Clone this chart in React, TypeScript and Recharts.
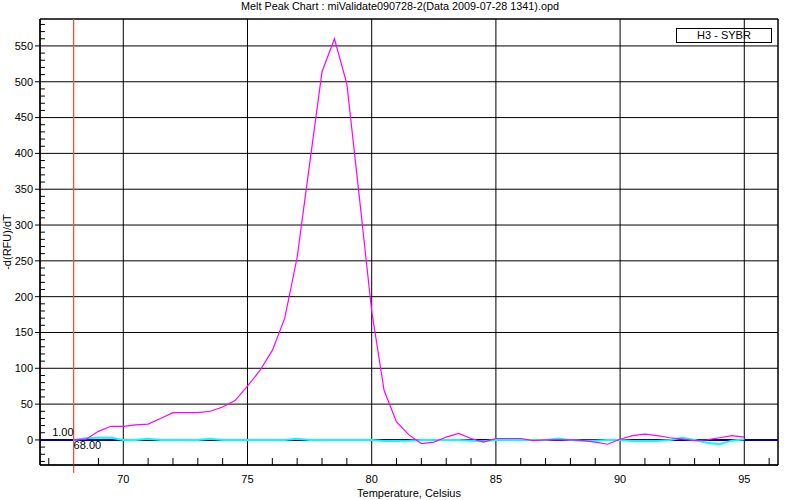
import {
  CartesianGrid,
  Label,
  Line,
  LineChart,
  ReferenceArea,
  ReferenceDot,
  ReferenceLine,
  XAxis,
  YAxis,
} from 'recharts';

const temps = [
  68, 68.5, 69, 69.5, 70, 70.5, 71, 71.5, 72, 72.5, 73, 73.5, 74, 74.5, 75, 75.5, 76, 76.5, 77, 77.5,
  78, 78.5, 79, 79.5, 80, 80.5, 81, 81.5, 82, 82.5, 83, 83.5, 84, 84.5, 85, 85.5, 86, 86.5, 87, 87.5,
  88, 88.5, 89, 89.5, 90, 90.5, 91, 91.5, 92, 92.5, 93, 93.5, 94, 94.5, 95,
];
const h3Sybr = [
  0, 1, 12, 19, 19, 21, 22, 30, 38, 38, 38, 40, 46, 55, 75, 97, 125, 170, 255, 385,
  514, 560, 497, 340, 180, 69, 25, 7, -5, -3, 4, 9, 2, -3, 2, 2, 2, -1, 0, 0,
  0, -1, -3, -6, 1, 6, 8, 6, 3, 1, -1, 0, 3, 6, 4,
];
const h3Blank = [
  0, 2.5, 3, 3, 0, 0, 1.5, 0, 0, 0, 0, 1.5, 0, 0, 0, 0, 0, 0, 1.5, 0,
  0, 0, 0, 0, 0, -1.5, -1.5, -1, 0, 0, 0, 0, -1, -2, 0, 0, 0, 0, 0, 2,
  0, -1, -1, 0, 0, -1.5, -1.5, -1.5, 0, 3, 0, -4, -6, -1, 1,
];

const xTicks = [70, 75, 80, 85, 90, 95];
const yTicks = [0, 50, 100, 150, 200, 250, 300, 350, 400, 450, 500, 550];
const xMinor = [67, 69, 71, 72, 73, 74, 76, 77, 78, 79, 81, 82, 83, 84, 86, 87, 88, 89, 91, 92, 93, 94, 96];
const yMinor = [-30, -20, -10];
for (let v = 10; v < 590; v += 10) if (v % 50 !== 0) yMinor.push(v);

const X_MIN = 66.647;
const X_MAX = 96.357;
const Y_MIN = -35;
const Y_MAX = 587.6;

const cursorTemp = 68;
const legendName = 'H3 - SYBR';
const title = 'Melt Peak Chart : miValidate090728-2(Data 2009-07-28 1341).opd';

const data = temps.map((t, i) => ({ t, sybr: h3Sybr[i], blank: h3Blank[i] }));

const font = '"Liberation Sans", Arial, sans-serif';

export default function App() {
  return (
    <div style={{ position: 'absolute', left: 0, top: 0, width: 800, height: 500, background: '#fff', fontFamily: font }}>
      <div style={{ position: 'absolute', left: 0, top: 0, width: 800, textAlign: 'center', fontSize: 10.8, lineHeight: '13px', color: '#000' }}>
        {title}
      </div>
      <LineChart width={800} height={500} data={data} margin={{ top: 19, right: 22, bottom: 0, left: 0 }}>
        <CartesianGrid stroke='#000' strokeWidth={1} />
        <ReferenceArea x1={X_MIN} x2={X_MAX} y1={Y_MIN} y2={Y_MAX} fill='none' stroke='#000' strokeWidth={1} />
        <XAxis
          dataKey='t'
          type='number'
          domain={[X_MIN, X_MAX]}
          ticks={xTicks}
          allowDataOverflow
          height={35}
          tickSize={0}
          tickMargin={10}
          axisLine={{ stroke: '#000' }}
          tick={{ fill: '#000', fontSize: 11, fontFamily: font }}
        >
          <Label
            content={({ viewBox }: any) => (
              <text x={viewBox.x + viewBox.width / 2} y={viewBox.y + viewBox.height - 3} textAnchor='middle' fontSize={11} fontFamily={font} fill='#000'>
                Temperature, Celsius
              </text>
            )}
          />
        </XAxis>
        <YAxis
          type='number'
          domain={[Y_MIN, Y_MAX]}
          ticks={yTicks}
          allowDataOverflow
          width={40}
          tickSize={5}
          tickMargin={2}
          axisLine={{ stroke: '#000' }}
          tickLine={{ stroke: '#000' }}
          tick={{ fill: '#000', fontSize: 11, fontFamily: font }}
        >
          <Label
            content={({ viewBox }: any) => {
              const cx = 7;
              const cy = viewBox.y + viewBox.height / 2;
              return (
                <text x={cx} y={cy} transform={`rotate(-90 ${cx} ${cy})`} textAnchor='middle' dominantBaseline='central' fontSize={11} fontFamily={font} fill='#000'>
                  -d(RFU)/dT
                </text>
              );
            }}
          />
        </YAxis>
        {xMinor.map((v) => (
          <ReferenceLine key={'xm' + v} segment={[{ x: v, y: Y_MIN }, { x: v, y: Y_MIN + 9.8 }]} stroke='#000' />
        ))}
        {yMinor.map((v) => (
          <ReferenceLine key={'ym' + v} segment={[{ x: X_MIN, y: v }, { x: X_MIN + 0.2, y: v }]} stroke='#000' />
        ))}
        <ReferenceLine y={0} stroke='#00008b' strokeWidth={2} />
        <ReferenceLine x={cursorTemp} stroke='#f0503c' strokeWidth={1.3} />
        <ReferenceLine
          segment={[{ x: cursorTemp, y: Y_MIN - 11 }, { x: cursorTemp, y: Y_MIN }]}
          ifOverflow='visible'
          stroke='#f0503c'
          strokeWidth={1.3}
        />
        <Line dataKey='blank' type='linear' stroke='#00ffff' strokeWidth={2} dot={false} isAnimationActive={false} />
        <Line dataKey='sybr' type='linear' stroke='#ff00ff' strokeWidth={1.2} dot={false} isAnimationActive={false} />
        <ReferenceDot
          x={cursorTemp}
          y={0}
          r={0}
          fill='none'
          stroke='none'
          label={({ viewBox }: any) => (
            <g fontSize={11} fontFamily={font} fill='#000'>
              <text x={viewBox.x} y={viewBox.y - 4} textAnchor='end'>1.00</text>
              <text x={viewBox.x} y={viewBox.y + 9} textAnchor='start'>68.00</text>
            </g>
          )}
        />
      </LineChart>
      <div
        style={{
          position: 'absolute',
          left: 676,
          top: 28,
          width: 94,
          height: 13,
          border: '1px solid #000',
          fontSize: 11,
          lineHeight: '13px',
          textAlign: 'center',
          color: '#000',
        }}
      >
        {legendName}
      </div>
    </div>
  );
}
